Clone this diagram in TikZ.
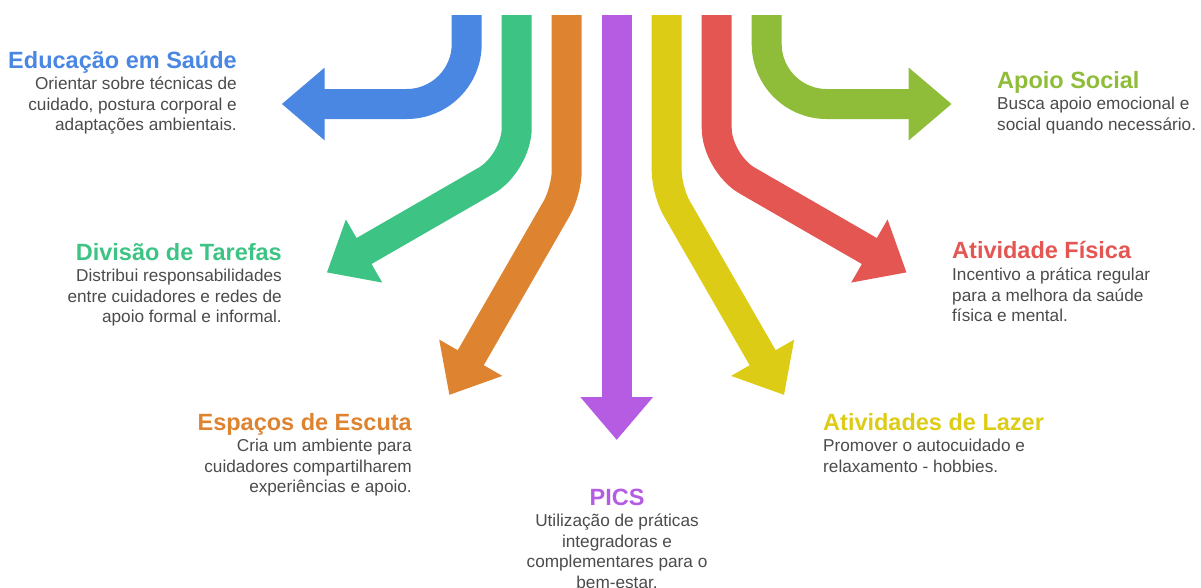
\documentclass[tikz,border=0pt]{standalone}
\usepackage{fontspec}
\setmainfont{Liberation Sans}
\usepackage{tikz}
\usetikzlibrary{arrows.meta, positioning}
\definecolor{saudeblue}{RGB}{74,135,226}
\definecolor{tarefagreen}{RGB}{61,196,132}
\definecolor{escutaorange}{RGB}{222,131,48}
\definecolor{picspurple}{RGB}{182,92,226}
\definecolor{lazeryellow}{RGB}{221,204,22}
\definecolor{fisicared}{RGB}{227,86,82}
\definecolor{apoiolime}{RGB}{143,188,57}
\definecolor{bodygray}{RGB}{75,75,75}

\begin{document}
\begin{tikzpicture}[
    x=1pt, y=-1pt,
    band/.style={line width=30pt, draw=#1, -{Triangle[length=43pt, width=70pt]}},
    head/.style={font=\bfseries\fontsize{23.5}{26}\selectfont, text=#1, inner sep=0pt},
    body/.style={font=\fontsize{17.2}{20.5}\selectfont, text=bodygray, inner sep=0pt},
]
    \useasboundingbox (0,0) rectangle (1201,587);

    % start points of the bands
    \coordinate (eduTop) at (466.7,15);
    \coordinate (tarTop) at (516.7,15);
    \coordinate (escTop) at (566.7,15);
    \coordinate (picTop) at (616.7,15);
    \coordinate (lazTop) at (666.7,15);
    \coordinate (fisTop) at (716.7,15);
    \coordinate (apoTop) at (766.7,15);

    % tips
    \coordinate (eduTip) at (281.7,104);
    \coordinate (tarTip) at (326.8,272.5);
    \coordinate (escTip) at (449.3,395);
    \coordinate (picTip) at (616.7,440);
    \coordinate (lazTip) at (784.1,395);
    \coordinate (fisTip) at (906.6,272.5);
    \coordinate (apoTip) at (951.7,104);

    \draw[band=saudeblue, rounded corners=60pt] (eduTop) -- (466.7,104) -- (eduTip);
    \draw[band=tarefagreen, rounded corners=35pt] (tarTop) -- (516.7,163) -- (tarTip);
    \draw[band=escutaorange, rounded corners=20pt] (escTop) -- (566.7,191) -- (escTip);
    \draw[band=picspurple] (picTop) -- (picTip);
    \draw[band=lazeryellow, rounded corners=20pt] (lazTop) -- (666.7,191) -- (lazTip);
    \draw[band=fisicared, rounded corners=35pt] (fisTop) -- (716.7,163) -- (fisTip);
    \draw[band=apoiolime, rounded corners=60pt] (apoTop) -- (766.7,104) -- (apoTip);

    % left labels
    \node[head=saudeblue, anchor=base east] (edu) at (237,68) {Educação em Saúde};
    \node[body, below=9pt of edu.base east, anchor=north east, align=right] (eduTxt)
        {Orientar sobre técnicas de\\cuidado, postura corporal e\\adaptações ambientais.};

    \node[head=tarefagreen, anchor=base east] (tar) at (282,260) {Divisão de Tarefas};
    \node[body, below=9pt of tar.base east, anchor=north east, align=right] (tarTxt)
        {Distribui responsabilidades\\entre cuidadores e redes de\\apoio formal e informal.};

    \node[head=escutaorange, anchor=base east] (esc) at (412,430) {Espaços de Escuta};
    \node[body, below=9pt of esc.base east, anchor=north east, align=right] (escTxt)
        {Cria um ambiente para\\cuidadores compartilharem\\experiências e apoio.};

    % bottom label
    \node[head=picspurple, anchor=base] (pic) at (617,505) {PICS};
    \node[body, below=9pt of pic.base, anchor=north, align=center] (picTxt)
        {Utilização de práticas\\integradoras e\\complementares para o\\bem-estar.};

    % right labels
    \node[head=lazeryellow, anchor=base west] (laz) at (823,430) {Atividades de Lazer};
    \node[body, below=9pt of laz.base west, anchor=north west, align=left] (lazTxt)
        {Promover o autocuidado e\\relaxamento - hobbies.};

    \node[head=fisicared, anchor=base west] (fis) at (952,258) {Atividade Física};
    \node[body, below=10pt of fis.base west, anchor=north west, align=left] (fisTxt)
        {Incentivo a prática regular\\para a melhora da saúde\\física e mental.};

    \node[head=apoiolime, anchor=base west] (apo) at (997,88) {Apoio Social};
    \node[body, below=9pt of apo.base west, anchor=north west, align=left] (apoTxt)
        {Busca apoio emocional e\\social quando necessário.};
\end{tikzpicture}
\end{document}
